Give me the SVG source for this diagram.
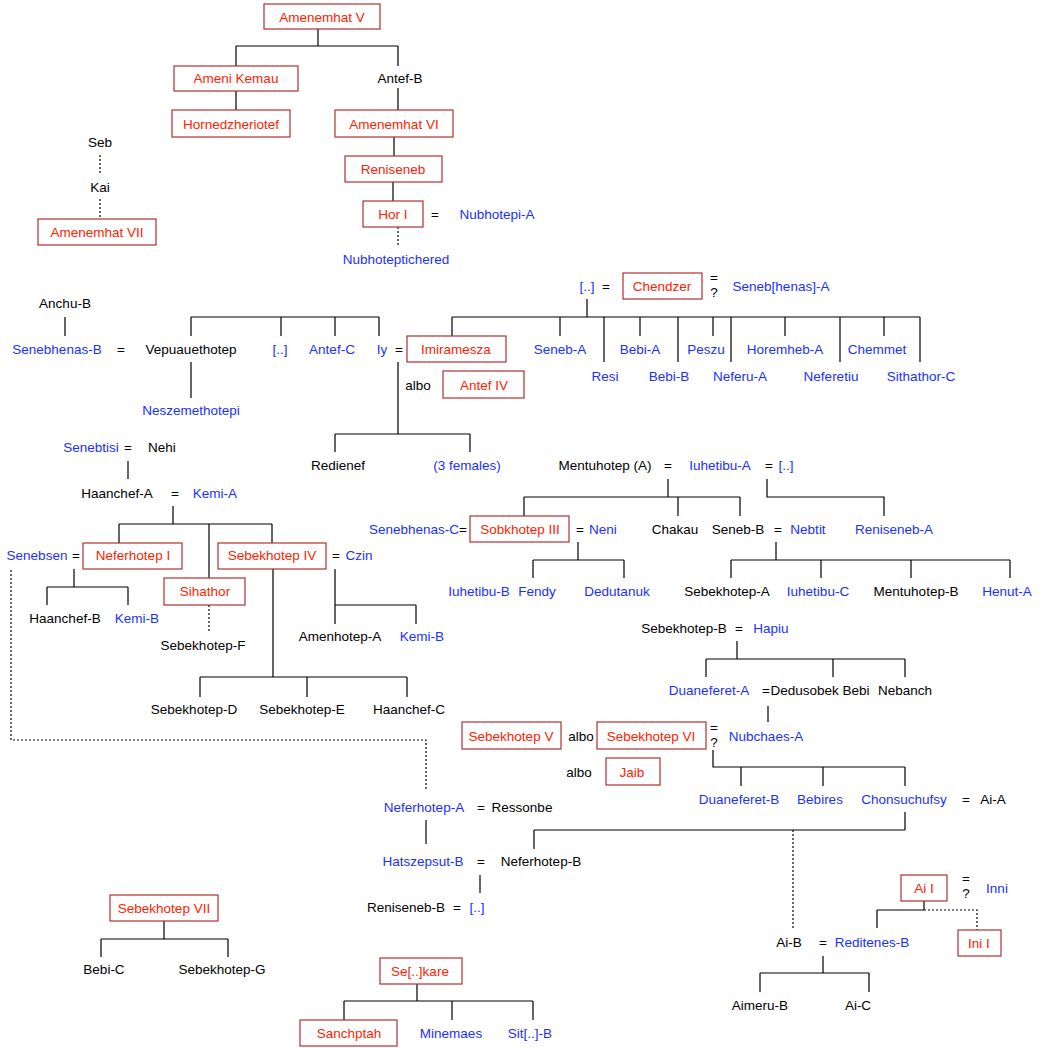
<svg xmlns="http://www.w3.org/2000/svg" width="1042" height="1048" viewBox="0 0 1042 1048">
<style>
text{font-family:"Liberation Sans",Arial,sans-serif;font-size:13.5px;text-anchor:middle;dominant-baseline:central}
.k{fill:#000}.b{fill:#1a30ff}.r{fill:#ff2200}
rect{fill:#fff;stroke:#b03030;stroke-width:1.2}
#c path{fill:none;stroke:#000;stroke-width:1.2}
#c .d{stroke-dasharray:2,2}
</style>
<rect x="0" y="0" width="1042" height="1048" style="fill:#fff;stroke:none"/>
<g id="c">
<path d="M318 29V46M236 46H398M236 46V66M398 46V66M236 91V110M398 88V110M394 137V156M393 182V201"/>
<path class="d" d="M398 227V246M100 155V175M100 199V218"/>
<path d="M587 299V317M452 317H920M452 317V336M560 317V336M604 317V362M640 317V336M678 317V362M713 317V336M731 317V362M785 317V336M840 317V362M884 317V336M920 317V362"/>
<path d="M65 317V336M191 317H379M191 317V336M281 317V336M335 317V336M379 317V336M191 362V398"/>
<path d="M398 362V434M335 434H470M335 434V452M470 434V452"/>
<path d="M128 461V479M173 506V524M119 524H272M119 524V543M209 524V578M272 524V543"/>
<path d="M74 569V587M47 587H128M47 587V605M128 587V605"/>
<path class="d" d="M209 605V632M11 570V740H426V790"/>
<path d="M335 569V605M335 605H416M335 605V624M416 605V624"/>
<path d="M273 569V677M200 677H407M200 677V697M307 677V697M407 677V697"/>
<path d="M668 479V497M524 497H740M524 497V516M678 497V516M740 497V516M767 479V497H884V516"/>
<path d="M578 542V560M533 560H624M533 560V578M624 560V578"/>
<path d="M776 542V560M731 560H1010M731 560V578M821 560V578M911 560V578M1010 560V578"/>
<path d="M737 641V659M706 659H905M706 659V677M833 659V677M905 659V677"/>
<path d="M768 706V722M713 750V767H905M741 767V786M823 767V786M905 767V786"/>
<path d="M905 812V830M534 830H905M534 830V849"/>
<path class="d" d="M793 830V928"/>
<path d="M426 820V844M480 875V893"/>
<path d="M924 901V910M877 910H924M877 910V928"/>
<path class="d" d="M924 910H977V930"/>
<path d="M823 956V973M760 973H869M760 973V992M869 973V992"/>
<path d="M164 921V939M101 939H228M101 939V957M228 939V957"/>
<path d="M417 984V1001M344 1001H533M344 1001V1020M452 1001V1020M533 1001V1020"/>
</g>
<g id="n-amenemhatV"><rect x="264" y="4" width="116" height="25"/><text class="r" x="322" y="17">Amenemhat V</text></g>
<g id="n-amenikemau"><rect x="174" y="66" width="124" height="25"/><text class="r" x="236" y="78">Ameni Kemau</text></g>
<g id="n-antefB"><text class="k" x="400" y="78">Antef-B</text></g>
<g id="n-horned"><rect x="172" y="110" width="118" height="27"/><text class="r" x="231" y="124">Hornedzheriotef</text></g>
<g id="n-amenemhatVI"><rect x="335" y="110" width="118" height="27"/><text class="r" x="394" y="124">Amenemhat VI</text></g>
<g id="n-reniseneb"><rect x="345" y="156" width="97" height="26"/><text class="r" x="393" y="169">Reniseneb</text></g>
<g id="n-horI"><rect x="363" y="201" width="60" height="26"/><text class="r" x="393" y="214">Hor I</text><text class="k" x="435" y="214">=</text><text class="b" x="497" y="214">Nubhotepi-A</text></g>
<g id="n-nubhotepti"><text class="b" x="396" y="259">Nubhoteptichered</text></g>
<g id="n-seb"><text class="k" x="100" y="142">Seb</text></g>
<g id="n-kai"><text class="k" x="100" y="187">Kai</text></g>
<g id="n-amenemhatVII"><rect x="38" y="219" width="118" height="26"/><text class="r" x="97" y="232">Amenemhat VII</text></g>
<g id="n-chendzer"><text class="b" x="587" y="286">[..]</text><text class="k" x="606" y="286">=</text><rect x="623" y="273" width="79" height="26"/><text class="r" x="662" y="286">Chendzer</text><text class="k" x="714" y="277">=</text><text class="k" x="714" y="292">?</text><text class="b" x="781" y="286">Seneb[henas]-A</text></g>
<g id="n-children-chendzer">
<text class="b" x="560" y="349">Seneb-A</text><text class="b" x="640" y="349">Bebi-A</text><text class="b" x="706" y="349">Peszu</text><text class="b" x="785" y="349">Horemheb-A</text><text class="b" x="877" y="349">Chemmet</text>
<text class="b" x="605" y="376">Resi</text><text class="b" x="669" y="376">Bebi-B</text><text class="b" x="740" y="376">Neferu-A</text><text class="b" x="831" y="376">Neferetiu</text><text class="b" x="921" y="376">Sithathor-C</text>
</g>
<g id="n-anchuB"><text class="k" x="65" y="303">Anchu-B</text></g>
<g id="n-row349"><text class="b" x="57" y="349">Senebhenas-B</text><text class="k" x="121" y="349">=</text><text class="k" x="191" y="349">Vepuauethotep</text><text class="b" x="280" y="349">[..]</text><text class="b" x="332" y="349">Antef-C</text><text class="b" x="382" y="349">Iy</text><text class="k" x="399" y="349">=</text></g>
<g id="n-imiramesza"><rect x="407" y="336" width="99" height="26"/><text class="r" x="456" y="349">Imiramesza</text></g>
<g id="n-antefIV"><text class="k" x="418" y="385">albo</text><rect x="443" y="371" width="81" height="27"/><text class="r" x="484" y="385">Antef IV</text></g>
<g id="n-neszem"><text class="b" x="191" y="410">Neszemethotepi</text></g>
<g id="n-redienef"><text class="k" x="338" y="465">Redienef</text><text class="b" x="467" y="465">(3 females)</text></g>
<g id="n-senebtisi"><text class="b" x="91" y="447">Senebtisi</text><text class="k" x="128" y="447">=</text><text class="k" x="162" y="447">Nehi</text></g>
<g id="n-haanchefA"><text class="k" x="117" y="493">Haanchef-A</text><text class="k" x="175" y="493">=</text><text class="b" x="215" y="493">Kemi-A</text></g>
<g id="n-neferhotepI"><text class="b" x="37" y="555">Senebsen</text><text class="k" x="76" y="555">=</text><rect x="83" y="543" width="99" height="26"/><text class="r" x="133" y="555">Neferhotep I</text></g>
<g id="n-sebekhotepIV"><rect x="218" y="543" width="108" height="26"/><text class="r" x="272" y="555">Sebekhotep IV</text><text class="k" x="336" y="555">=</text><text class="b" x="359" y="555">Czin</text></g>
<g id="n-sihathor"><rect x="164" y="578" width="81" height="27"/><text class="r" x="205" y="591">Sihathor</text></g>
<g id="n-row618"><text class="k" x="65" y="618">Haanchef-B</text><text class="b" x="137" y="618">Kemi-B</text></g>
<g id="n-row636"><text class="k" x="340" y="636">Amenhotep-A</text><text class="b" x="422" y="636">Kemi-B</text></g>
<g id="n-sebekF"><text class="k" x="203" y="645">Sebekhotep-F</text></g>
<g id="n-row709"><text class="k" x="194" y="709">Sebekhotep-D</text><text class="k" x="302" y="709">Sebekhotep-E</text><text class="k" x="409" y="709">Haanchef-C</text></g>
<g id="n-mentuA"><text class="k" x="605" y="465">Mentuhotep (A)</text><text class="k" x="668" y="465">=</text><text class="b" x="720" y="465">Iuhetibu-A</text><text class="k" x="769" y="465">=</text><text class="b" x="786" y="465">[..]</text></g>
<g id="n-sobkhotepIII"><text class="b" x="414" y="529">Senebhenas-C</text><text class="k" x="463" y="529">=</text><rect x="470" y="516" width="99" height="26"/><text class="r" x="520" y="529">Sobkhotep III</text><text class="k" x="580" y="529">=</text><text class="b" x="603" y="529">Neni</text></g>
<g id="n-row529"><text class="k" x="675" y="529">Chakau</text><text class="k" x="738" y="529">Seneb-B</text><text class="k" x="778" y="529">=</text><text class="b" x="808" y="529">Nebtit</text><text class="b" x="894" y="529">Reniseneb-A</text></g>
<g id="n-row591"><text class="b" x="479" y="591">Iuhetibu-B</text><text class="b" x="537" y="591">Fendy</text><text class="b" x="617" y="591">Dedutanuk</text><text class="k" x="727" y="591">Sebekhotep-A</text><text class="b" x="818" y="591">Iuhetibu-C</text><text class="k" x="916" y="591">Mentuhotep-B</text><text class="b" x="1007" y="591">Henut-A</text></g>
<g id="n-sebekB"><text class="k" x="684" y="628">Sebekhotep-B</text><text class="k" x="739" y="628">=</text><text class="b" x="771" y="628">Hapiu</text></g>
<g id="n-row690"><text class="b" x="709" y="690">Duaneferet-A</text><text class="k" x="766" y="690">=</text><text class="k" x="820" y="690">Dedusobek Bebi</text><text class="k" x="905" y="690">Nebanch</text></g>
<g id="n-sebekV"><rect x="462" y="722" width="99" height="27"/><text class="r" x="511" y="736">Sebekhotep V</text><text class="k" x="581" y="736">albo</text></g>
<g id="n-sebekVI"><rect x="597" y="722" width="109" height="27"/><text class="r" x="651" y="736">Sebekhotep VI</text><text class="k" x="714" y="727">=</text><text class="k" x="714" y="742">?</text><text class="b" x="766" y="736">Nubchaes-A</text></g>
<g id="n-jaib"><text class="k" x="579" y="772">albo</text><rect x="606" y="758" width="54" height="27"/><text class="r" x="632" y="772">Jaib</text></g>
<g id="n-row799"><text class="b" x="739" y="799">Duaneferet-B</text><text class="b" x="820" y="799">Bebires</text><text class="b" x="904" y="799">Chonsuchufsy</text><text class="k" x="966" y="799">=</text><text class="k" x="993" y="799">Ai-A</text></g>
<g id="n-neferhotepA"><text class="b" x="424" y="807">Neferhotep-A</text><text class="k" x="481" y="807">=</text><text class="k" x="522" y="807">Ressonbe</text></g>
<g id="n-hatszepsut"><text class="b" x="423" y="861">Hatszepsut-B</text><text class="k" x="481" y="861">=</text><text class="k" x="541" y="861">Neferhotep-B</text></g>
<g id="n-renisenebB"><text class="k" x="406" y="907">Reniseneb-B</text><text class="k" x="457" y="907">=</text><text class="b" x="477" y="907">[..]</text></g>
<g id="n-aiI"><rect x="901" y="875" width="46" height="26"/><text class="r" x="924" y="888">Ai I</text><text class="k" x="966" y="878">=</text><text class="k" x="966" y="893">?</text><text class="b" x="997" y="888">Inni</text></g>
<g id="n-iniI"><rect x="958" y="930" width="43" height="26"/><text class="r" x="979" y="943">Ini I</text></g>
<g id="n-aiB"><text class="k" x="789" y="942">Ai-B</text><text class="k" x="823" y="942">=</text><text class="b" x="872" y="942">Reditenes-B</text></g>
<g id="n-row1005"><text class="k" x="760" y="1005">Aimeru-B</text><text class="k" x="858" y="1005">Ai-C</text></g>
<g id="n-sebekVII"><rect x="110" y="895" width="108" height="26"/><text class="r" x="164" y="908">Sebekhotep VII</text></g>
<g id="n-row969"><text class="k" x="104" y="969">Bebi-C</text><text class="k" x="222" y="969">Sebekhotep-G</text></g>
<g id="n-sekare"><rect x="380" y="958" width="82" height="26"/><text class="r" x="420" y="971">Se[..]kare</text></g>
<g id="n-sanchptah"><rect x="300" y="1020" width="97" height="26"/><text class="r" x="349" y="1033">Sanchptah</text></g>
<g id="n-row1033"><text class="b" x="451" y="1033">Minemaes</text><text class="b" x="530" y="1033">Sit[..]-B</text></g>
</svg>
